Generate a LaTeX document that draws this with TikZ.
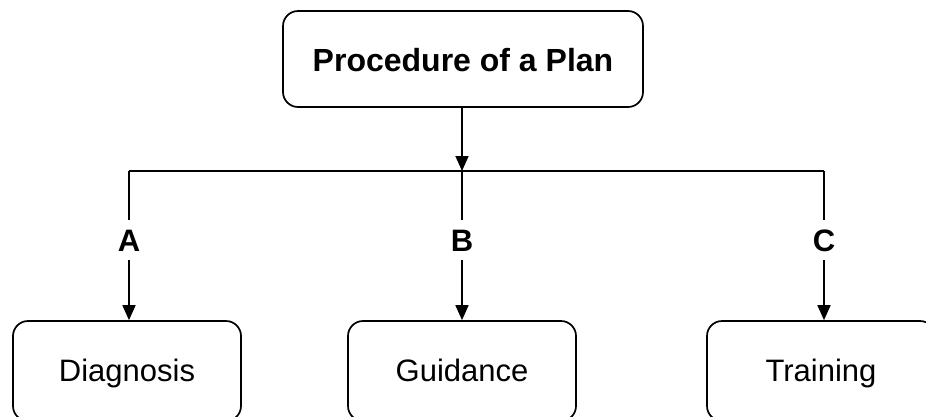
\documentclass[tikz,border=0pt]{standalone}
\usepackage{fontspec}
\setmainfont{Liberation Sans}
\usetikzlibrary{arrows.meta}
\tikzset{
  box/.style={draw=black, line width=1.7pt, rounded corners=15pt, fill=white,
    minimum width=228pt, minimum height=#1, inner sep=0pt, text height=23pt, text depth=3pt,
    font=\fontsize{31}{37}\selectfont},
  box/.default=100pt,
  lbl/.style={inner sep=0pt, text height=23pt, text depth=0pt, minimum height=40pt,
    font=\fontsize{31}{37}\selectfont\bfseries},
  conn/.style={line width=1.7pt},
  arr/.style={conn, -{Triangle[length=15pt,width=13pt]}},
}
\begin{document}
\begin{tikzpicture}[x=1pt,y=-1pt]
\clip (0,0) rectangle (926,416);
\useasboundingbox (0,0) rectangle (926,416);
\node[box=96pt, minimum width=360pt, text height=24pt, text depth=0pt,
  font=\fontsize{32}{38}\selectfont\bfseries] (top) at (463,59) {Procedure of a Plan};
\node[box] (diag) at (127,371) {Diagnosis};
\node[box] (guid) at (462,371) {Guidance};
\node[box] (trai) at (821,371) {Training};
\coordinate (jA) at (129,171);
\coordinate (jB) at (462,171);
\coordinate (jC) at (824,171);
\node[lbl] (A) at (129,240) {A};
\node[lbl] (B) at (462,240) {B};
\node[lbl] (C) at (824,240) {C};
\draw[arr] (top.south -| jB) -- (jB);
\draw[conn] (jA) -- (jC);
\draw[conn] (jA) -- (A);
\draw[conn] (jB) -- (B);
\draw[conn] (jC) -- (C);
\draw[arr] (A) -- (diag.north -| A);
\draw[arr] (B) -- (guid.north -| B);
\draw[arr] (C) -- (trai.north -| C);
\end{tikzpicture}
\end{document}
